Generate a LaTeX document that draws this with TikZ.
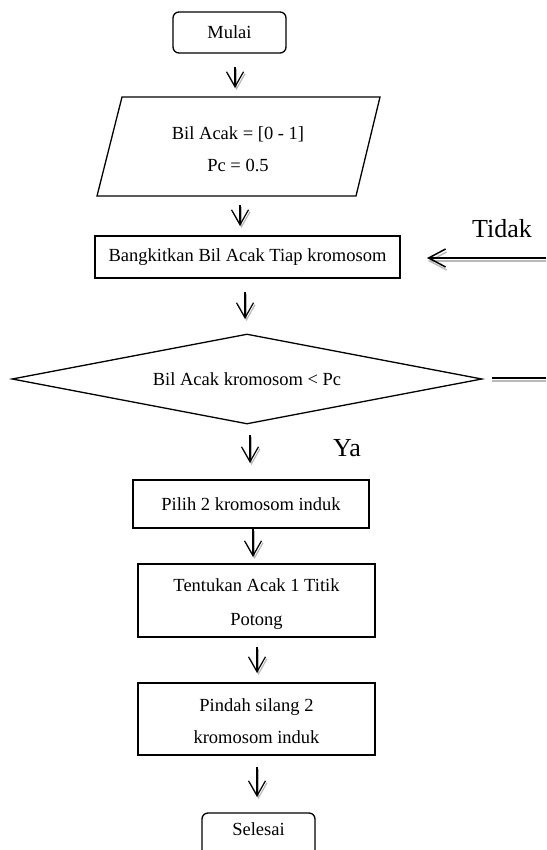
\documentclass[tikz,border=0pt]{standalone}
\usepackage{fontspec}
\setmainfont{Liberation Serif}
\usetikzlibrary{shapes.geometric,arrows.meta}
\tikzset{
  box/.style={draw, line width=1.3pt, inner sep=0pt, font=\fontsize{18.5}{32}\selectfont, align=center},
  term/.style={box, rounded corners=6pt},
  txt/.style={inner sep=0pt, font=\fontsize{18.5}{32}\selectfont, align=center},
  arr/.style={line width=1.2pt, -{Straight Barb[length=15pt,width=17pt]}},
  arrsh/.style={arr, draw=gray!55, transform canvas={xshift=1.5pt, yshift=-2pt}},
  lbl/.style={font=\fontsize{26}{30}\selectfont, inner sep=0pt, anchor=base},
  dline/.style={line width=1.5pt},
  dlinesh/.style={line width=1.5pt, draw=gray!55, transform canvas={yshift=-3pt}},
}
\begin{document}
\begin{tikzpicture}[x=1pt,y=-1pt]
\useasboundingbox (0,0) rectangle (546,850);
\clip (0,0) rectangle (546,850);

% start
\node[term, minimum width=113pt, minimum height=41pt] (mulai) at (229.5,32.5) {Mulai};

% input parallelogram
\coordinate (p1) at (122,97);
\coordinate (p2) at (380,97);
\coordinate (p3) at (356,196);
\coordinate (p4) at (97,196);
\draw[line width=1.3pt] (p1) -- (p2) -- (p3) -- (p4) -- cycle;
\node[txt] (input) at (238,149) {Bil Acak = [0 - 1]\\Pc = 0.5};

% generate
\node[box, minimum width=305pt, minimum height=42pt] (gen) at (247.5,257) {Bangkitkan Bil Acak Tiap kromosom};

% decision
\node[box, shape=diamond, aspect=5.2, minimum width=470pt, minimum height=90pt] (dec) at (247,379) {Bil Acak kromosom < Pc};

% choose
\node[box, minimum width=236pt, minimum height=48pt] (pilih) at (251,504) {Pilih 2 kromosom induk};

% cut point
\node[box, minimum width=237pt, minimum height=73pt] (tentukan) at (256.5,600.5) {};
\begin{scope}
  \clip (138,564) rectangle (375,628);
  \node[txt, font=\fontsize{18.5}{34}\selectfont] (tentukanText) at (256.5,604) {Tentukan Acak 1 Titik\\Potong};
\end{scope}

% crossover
\node[box, minimum width=237pt, minimum height=72pt] (pindah) at (256.5,719) {};
\node[txt] (pindahText) at (256.5,721) {Pindah silang 2\\kromosom induk};

% end
\node[term, minimum width=113pt, minimum height=47pt] (selesai) at (258.5,836.5) {};
\node[txt] (selesaiText) at (258.5,829) {Selesai};

% arrow coordinates
\coordinate (a1s) at (235,67);  \coordinate (a1e) at (235,88);
\coordinate (a2s) at (240,205); \coordinate (a2e) at (240,226);
\coordinate (a3s) at (245,292); \coordinate (a3e) at (245,319);
\coordinate (a4s) at (250,435); \coordinate (a4e) at (250,463);
\coordinate (a5s) at (253,529); \coordinate (a5e) at (253,557);
\coordinate (a6s) at (257,647); \coordinate (a6e) at (257,673);
\coordinate (a7s) at (257,767); \coordinate (a7e) at (257,797);

\foreach \i in {1,...,7}{
  \draw[arrsh] (a\i s) -- (a\i e);
  \draw[arr] (a\i s) -- (a\i e);
}

% Tidak loop-back
\coordinate (tidakStart) at (546,258);
\coordinate (tidakEnd) at (427,258);
\draw[line width=1.5pt, draw=gray!55, transform canvas={xshift=1pt, yshift=-3pt}, -{Straight Barb[length=17pt,width=18pt]}] (tidakStart) -- (tidakEnd);
\draw[dline, -{Straight Barb[length=17pt,width=18pt]}] (tidakStart) -- (tidakEnd);

\coordinate (decOut) at (492,378);
\coordinate (decOutEnd) at (546,378);
\draw[dlinesh] (decOut) -- (decOutEnd);
\draw[dline] (decOut) -- (decOutEnd);

% labels
\node[lbl] (tidak) at (502,237) {Tidak};
\node[lbl] (ya) at (347,456) {Ya};
\end{tikzpicture}
\end{document}
